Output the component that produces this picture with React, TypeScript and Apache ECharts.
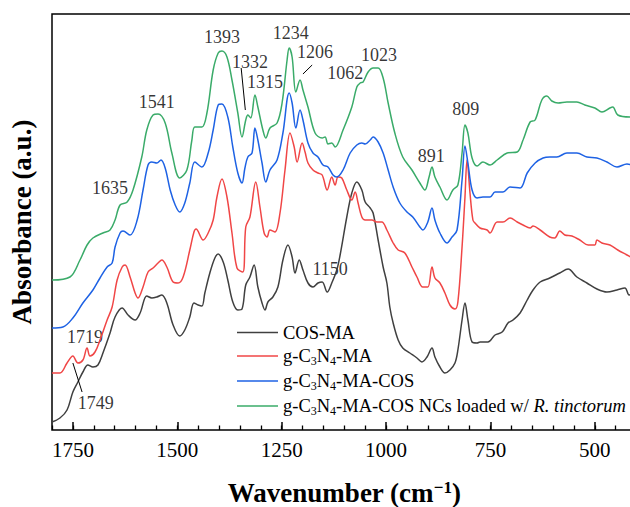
import React, { useEffect, useRef } from "react";
import * as echarts from "echarts";

// [wavenumber (cm-1), absorbance (a.u., offset stacked)]
const cosMa: number[][] = [
  [1800,8],[1781,12],[1764,20],[1750,38],[1738,48],[1726,58],[1714,65],[1702,63],[1690,65],[1678,77],[1661,97],[1649,113],[1632,122],[1618,115],[1601,110],[1589,117],[1573,134],[1561,132],[1549,133],[1537,135],[1525,127],[1510,105],[1494,94],[1482,100],[1470,113],[1460,127],[1450,125],[1441,124],[1434,137],[1422,157],[1410,172],[1402,176],[1390,168],[1379,150],[1367,128],[1355,120],[1345,121],[1336,145],[1326,153],[1316,165],[1307,143],[1297,127],[1290,120],[1283,128],[1271,133],[1259,143],[1247,170],[1235,185],[1225,173],[1218,157],[1208,170],[1199,160],[1187,147],[1175,143],[1163,147],[1153,148],[1141,138],[1130,147],[1118,160],[1110,175],[1094,213],[1082,237],[1070,248],[1058,240],[1050,228],[1038,222],[1031,217],[1019,190],[1007,163],[998,147],[991,123],[983,107],[971,90],[960,82],[943,77],[926,72],[914,68],[902,73],[890,82],[883,73],[871,63],[859,57],[847,60],[835,67],[828,80],[818,110],[811,127],[804,110],[794,88],[782,87],[775,88],[756,88],[739,95],[722,98],[708,107],[696,110],[679,117],[662,130],[648,140],[631,148],[608,152],[584,157],[564,161],[543,153],[519,147],[495,141],[471,138],[447,140],[428,142],[418,135],[410,138]
];
const gcnMa: number[][] = [
  [1800,57],[1781,57],[1764,67],[1750,74],[1738,67],[1726,70],[1716,82],[1709,74],[1697,78],[1685,90],[1668,110],[1656,123],[1644,150],[1632,163],[1625,165],[1613,153],[1601,137],[1594,132],[1582,143],[1570,158],[1558,162],[1546,167],[1537,170],[1525,163],[1510,148],[1498,147],[1486,153],[1470,180],[1460,198],[1455,201],[1438,190],[1426,197],[1414,210],[1405,233],[1393,251],[1381,233],[1369,197],[1357,162],[1343,158],[1336,203],[1326,213],[1312,248],[1302,223],[1292,197],[1285,193],[1278,200],[1266,198],[1254,217],[1242,260],[1230,297],[1220,283],[1213,268],[1201,287],[1194,278],[1187,267],[1175,260],[1163,257],[1153,255],[1141,240],[1130,253],[1122,245],[1115,253],[1106,252],[1094,240],[1082,230],[1074,238],[1067,227],[1058,213],[1050,210],[1034,210],[1022,208],[1010,208],[998,200],[983,187],[971,180],[955,177],[938,163],[926,153],[912,143],[900,143],[890,163],[883,152],[871,147],[859,137],[847,125],[835,121],[828,128],[818,183],[811,233],[806,270],[799,237],[792,210],[787,207],[775,202],[758,200],[751,197],[734,208],[720,208],[703,212],[686,208],[672,205],[655,202],[648,204],[631,200],[608,193],[596,192],[584,199],[572,195],[555,194],[536,190],[516,185],[500,185],[495,190],[483,187],[464,185],[445,180],[423,175],[410,172]
];
const gcnMaCos: number[][] = [
  [1800,102],[1774,103],[1750,112],[1726,127],[1702,140],[1685,152],[1668,163],[1656,167],[1649,183],[1637,197],[1630,199],[1613,195],[1596,210],[1582,240],[1570,265],[1561,268],[1549,267],[1539,270],[1529,262],[1517,240],[1505,225],[1494,218],[1482,227],[1470,247],[1458,268],[1441,263],[1426,277],[1414,300],[1402,325],[1393,326],[1379,313],[1367,283],[1355,257],[1345,247],[1338,262],[1331,273],[1321,277],[1314,302],[1307,290],[1297,267],[1288,248],[1278,260],[1261,270],[1247,297],[1232,337],[1225,327],[1216,302],[1206,320],[1199,310],[1187,287],[1175,277],[1163,273],[1151,265],[1139,263],[1127,255],[1118,253],[1103,260],[1086,277],[1070,285],[1058,287],[1050,286],[1038,290],[1031,293],[1019,288],[1007,277],[995,260],[983,243],[967,227],[950,218],[936,213],[919,203],[912,200],[900,208],[890,222],[883,210],[871,197],[854,187],[842,193],[830,200],[818,250],[811,284],[804,267],[794,240],[782,232],[768,233],[751,233],[739,238],[720,238],[703,243],[679,242],[662,257],[643,267],[624,272],[608,273],[591,273],[567,277],[543,277],[519,273],[495,272],[471,268],[447,263],[423,266],[410,265]
];
const gcnMaCosNc: number[][] = [
  [1800,150],[1757,153],[1733,170],[1716,185],[1702,192],[1678,197],[1661,200],[1649,210],[1637,225],[1620,228],[1606,240],[1585,273],[1573,300],[1558,315],[1546,316],[1529,307],[1513,277],[1494,252],[1477,260],[1465,290],[1458,303],[1441,303],[1429,317],[1414,360],[1402,377],[1393,379],[1381,373],[1369,350],[1355,317],[1345,293],[1336,310],[1331,315],[1324,312],[1314,335],[1307,323],[1295,300],[1288,292],[1278,302],[1261,307],[1249,327],[1237,370],[1232,382],[1225,373],[1216,338],[1206,350],[1199,340],[1187,323],[1170,297],[1153,292],[1146,293],[1139,286],[1130,287],[1122,283],[1103,300],[1082,323],[1070,343],[1062,347],[1055,348],[1043,358],[1031,362],[1019,362],[1007,352],[995,327],[979,297],[960,273],[938,260],[919,247],[907,240],[897,253],[890,263],[883,253],[871,243],[854,230],[840,240],[828,245],[818,277],[811,305],[804,297],[794,272],[782,264],[768,268],[751,265],[734,270],[710,277],[686,278],[672,290],[655,308],[643,310],[627,330],[615,334],[603,329],[588,327],[567,328],[543,328],[524,325],[500,322],[483,318],[464,322],[457,323],[445,315],[416,313],[410,313]
];

const seriesNames = [
  "COS-MA",
  "g-C3N4-MA",
  "g-C3N4-MA-COS",
  "g-C3N4-MA-COS NCs loaded w/ R. tinctorum",
];
const seriesColors = ["#404040", "#f04646", "#1e62e4", "#3aab69"];

// peak annotations: [wavenumber, absorbance, text]
const peakLabels: (number | string)[][] = [
  [1393, 393, "1393"], [1326, 368, "1332"], [1290, 348, "1315"], [1228, 397, "1234"],
  [1170, 378, "1206"], [1549, 328, "1541"], [1661, 242, "1635"], [1098, 357, "1062"],
  [1017, 375, "1023"], [892, 274, "891"], [809, 321, "809"], [1134, 161, "1150"],
  [1721, 93, "1719"], [1695, 27, "1749"],
];
const leaderLines: number[][][] = [
  [[1347, 362], [1337, 320]],
  [[1177, 365], [1199, 356]],
  [[1750, 67], [1728, 38]],
];
const majorTickLabels = [500, 750, 1000, 1250, 1500, 1750];

const xMin = 400;
const xMax = 1800;
const yMax = 416;
const FONT = "'Liberation Serif', 'Times New Roman', serif";

export default function App() {
  const ref = useRef<HTMLDivElement>(null);
  useEffect(() => {
    const chart = echarts.init(ref.current!, null, { renderer: "svg" });
    const gLeft = 52, gTop = 14, gHeight = 416, gWidth = 584.6;
    const ppu = gWidth / (xMax - xMin);
    const legendFmt: Record<string, string> = {
      "COS-MA": "{n|COS-MA}",
      "g-C3N4-MA": "{n|g-C}{s|3}{n|N}{s|4}{n|-MA}",
      "g-C3N4-MA-COS": "{n|g-C}{s|3}{n|N}{s|4}{n|-MA-COS}",
      "g-C3N4-MA-COS NCs loaded w/ R. tinctorum":
        "{n|g-C}{s|3}{n|N}{s|4}{n|-MA-COS NCs loaded w/ }{i|R. tinctorum}",
    };
    const datasets = [cosMa, gcnMa, gcnMaCos, gcnMaCosNc];
    const option: any = {
      animation: false,
      grid: [
        { left: gLeft, top: gTop, width: gWidth, height: gHeight, show: true, borderColor: "#000", borderWidth: 1.5, backgroundColor: "transparent", outerBoundsMode: "none", containLabel: false },
        { left: gLeft - (2000 - xMax) * ppu, top: gTop, width: (2000 - 250) * ppu, height: gHeight, show: false, outerBoundsMode: "none", containLabel: false },
      ],
      xAxis: [
        {
          type: "value", gridIndex: 0, min: xMin, max: xMax, interval: 50, inverse: true,
          axisLine: { show: false },
          axisTick: { show: true, inside: true, length: 4.5, lineStyle: { color: "#000", width: 1.3 } },
          axisLabel: { show: false }, splitLine: { show: false },
          name: "{b|Wavenumber (cm}{sup|\u22121}{b|)}", nameLocation: "middle", nameGap: 49,
          nameTextStyle: {
            rich: {
              b: { fontFamily: FONT, fontWeight: "bold", fontSize: 27, color: "#000" },
              sup: { fontFamily: FONT, fontWeight: "bold", fontSize: 17, color: "#000", verticalAlign: "top" },
            },
          },
        },
        {
          type: "value", gridIndex: 1, min: 250, max: 2000, interval: 250, inverse: true,
          axisLine: { show: false },
          axisTick: { show: true, inside: true, length: 8, lineStyle: { color: "#000", width: 1.5 } },
          axisLabel: {
            show: true, margin: 9, fontFamily: FONT, fontSize: 21, color: "#000",
            formatter: (v: number) => (majorTickLabels.indexOf(v) >= 0 ? String(v) : ""),
          },
          splitLine: { show: false },
        },
      ],
      yAxis: [
        {
          type: "value", gridIndex: 0, min: 0, max: yMax,
          axisLine: { show: false }, axisTick: { show: false }, axisLabel: { show: false }, splitLine: { show: false },
          name: "Absorbance (a.u.)", nameLocation: "middle", nameGap: 17,
          nameTextStyle: { fontFamily: FONT, fontWeight: "bold", fontSize: 27, color: "#000" },
        },
        { type: "value", gridIndex: 1, min: 0, max: yMax, show: false },
      ],
      legend: {
        data: seriesNames,
        orient: "vertical",
        left: 232,
        top: 318,
        icon: "rect",
        itemWidth: 41,
        itemHeight: 1.6,
        itemGap: 4.5,
        formatter: (name: string) => legendFmt[name],
        textStyle: {
          color: "#000",
          rich: {
            n: { fontFamily: FONT, fontSize: 18.5, color: "#000", lineHeight: 22 },
            s: { fontFamily: FONT, fontSize: 12, color: "#000", verticalAlign: "bottom", lineHeight: 11 },
            i: { fontFamily: FONT, fontSize: 18.5, fontStyle: "italic", color: "#000", lineHeight: 22 },
          },
        },
      },
      series: [
        ...datasets.map((d, i) => ({
          type: "line", name: seriesNames[i], data: d, xAxisIndex: 0, yAxisIndex: 0,
          symbol: "none", smooth: 0.35, color: seriesColors[i],
          lineStyle: { color: seriesColors[i], width: 1.5 },
        })),
        ...leaderLines.map((seg) => ({
          type: "line", data: seg, xAxisIndex: 0, yAxisIndex: 0, symbol: "none", silent: true,
          lineStyle: { color: "#000", width: 1 },
        })),
        {
          type: "scatter", xAxisIndex: 0, yAxisIndex: 0, symbolSize: 1, silent: true,
          itemStyle: { color: "transparent" },
          data: peakLabels,
          label: {
            show: true, position: "inside", formatter: (p: any) => p.data[2],
            fontFamily: FONT, fontSize: 18, color: "#000",
          },
        },
      ],
    };
    chart.setOption(option);
    return () => chart.dispose();
  }, []);
  return <div ref={ref} style={{ position: "absolute", left: 0, top: 0, width: 630, height: 507 }} />;
}
